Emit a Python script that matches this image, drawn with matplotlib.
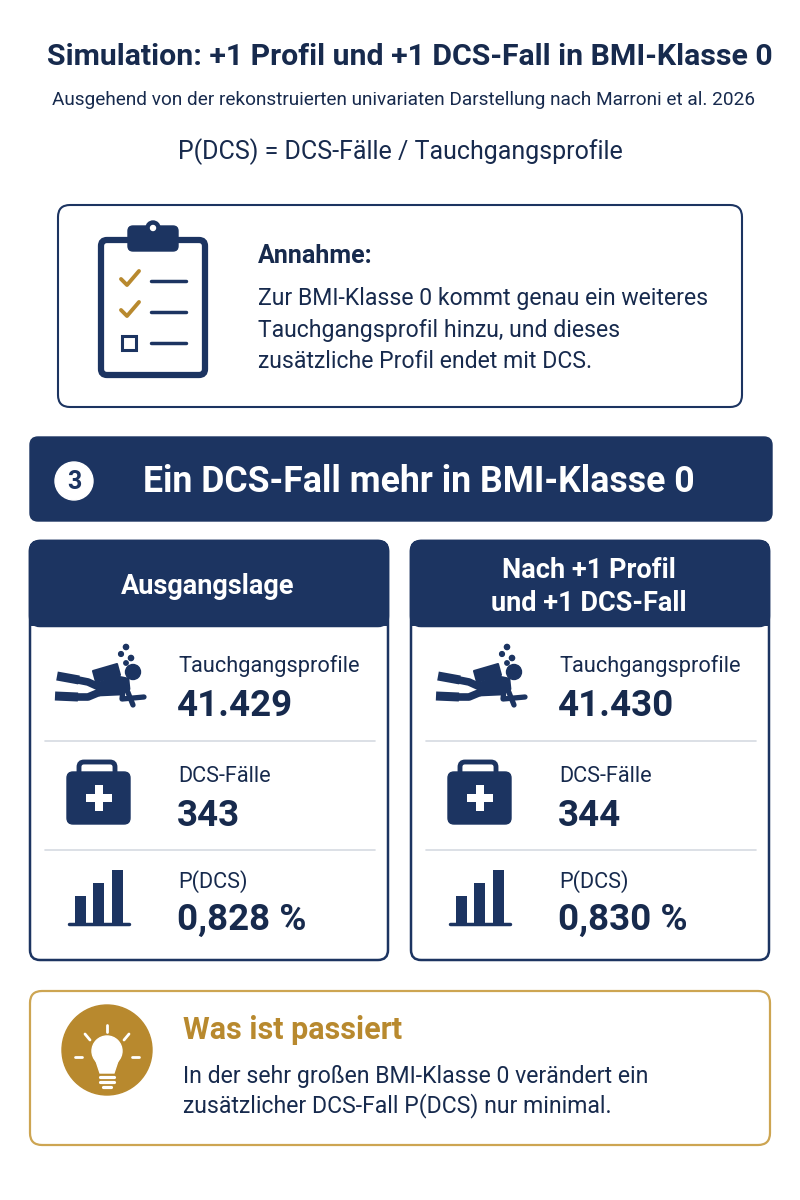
import matplotlib.pyplot as plt
from matplotlib.patches import FancyBboxPatch, Rectangle, Circle, Polygon

plt.rcParams['font.family'] = ['Roboto', 'DejaVu Sans']

# Texte und Werte
titel = "Simulation: +1 Profil und +1 DCS-Fall in BMI-Klasse 0"
untertitel = "Ausgehend von der rekonstruierten univariaten Darstellung nach Marroni et al. 2026"
formel = "P(DCS) = DCS-Fälle / Tauchgangsprofile"
annahme_titel = "Annahme:"
annahme_text = ["Zur BMI-Klasse 0 kommt genau ein weiteres",
                "Tauchgangsprofil hinzu, und dieses",
                "zusätzliche Profil endet mit DCS."]
banner_nr = "3"
banner_text = "Ein DCS-Fall mehr in BMI-Klasse 0"
karten_titel = ["Ausgangslage", "Nach +1 Profil\nund +1 DCS-Fall"]
zeilen_label = ["Tauchgangsprofile", "DCS-Fälle", "P(DCS)"]
werte_vorher = ["41.429", "343", "0,828 %"]
werte_nachher = ["41.430", "344", "0,830 %"]
fazit_titel = "Was ist passiert"
fazit_text = ["In der sehr großen BMI-Klasse 0 verändert ein",
              "zusätzlicher DCS-Fall P(DCS) nur minimal."]

NAVY = '#1c3461'
TXT = '#172a4d'
GOLD = '#b8892e'
GOLD_RAND = '#cda552'
GRAU = '#d6dae1'

fig = plt.figure(figsize=(8, 12), dpi=100)
ax = fig.add_axes([0, 0, 1, 1])
ax.set_xlim(0, 800)
ax.set_ylim(1200, 0)
ax.axis('off')


def box(x, y, w, h, fc='white', ec=NAVY, lw=1.5, r=12, z=1):
    p = FancyBboxPatch((x, y), w, h, boxstyle=f"round,pad=0,rounding_size={r}",
                       fc=fc, ec=ec, lw=lw, zorder=z)
    ax.add_patch(p)


def linie(xs, ys, c=NAVY, lw=3, z=5, cap='round'):
    ax.plot(xs, ys, color=c, lw=lw, solid_capstyle=cap, solid_joinstyle='round', zorder=z)


# Kopf
ax.text(410, 57, titel, ha='center', va='center', fontsize=21.8, fontweight='bold', color=TXT)
ax.text(404, 100, untertitel, ha='center', va='center', fontsize=13.7, color=TXT)
ax.text(400, 152, formel, ha='center', va='center', fontsize=18, color=TXT)

# Annahme-Box
box(58, 205, 684, 202, lw=1.5)
# Klemmbrett
box(101, 240, 104, 135, fc='none', ec=NAVY, lw=4.5, r=6, z=3)
box(128, 226, 50, 25, fc=NAVY, ec=NAVY, lw=1, r=5, z=4)
ax.add_patch(Circle((153, 228), 7, fc=NAVY, ec=NAVY, zorder=4))
ax.add_patch(Circle((153, 228), 2.5, fc='white', ec='white', zorder=5))
for yy in [280, 311]:
    linie([121, 127, 139], [yy - 1, yy + 5, yy - 9], c=GOLD, lw=2.8)
ax.add_patch(Rectangle((122, 336), 14, 14, fc='none', ec=NAVY, lw=2.2, zorder=5))
for yy in [281, 312, 343]:
    linie([151, 186], [yy, yy], lw=2.5)

ax.text(258, 256, annahme_titel, ha='left', va='center', fontsize=18, fontweight='bold', color=TXT)
for i, t in enumerate(annahme_text):
    ax.text(258, 298 + i * 32, t, ha='left', va='center', fontsize=16.6, color=TXT)

# Banner
box(30, 437, 742, 84, fc=NAVY, ec=NAVY, lw=1, r=8)
ax.add_patch(Circle((74, 481), 19, fc='white', ec='white', zorder=3))
ax.text(74, 482, banner_nr, ha='center', va='center', fontsize=18, fontweight='bold', color=NAVY, zorder=4)
ax.text(143, 482, banner_text, ha='left', va='center', fontsize=25.7, fontweight='bold', color='white', zorder=4)


# Icons
def taucher(dx):
    # Flasche
    ax.add_patch(Polygon([[93 + dx, 671], [117 + dx, 664], [120 + dx, 675], [96 + dx, 682]],
                         closed=True, fc=NAVY, ec=NAVY, lw=1.5, joinstyle='round', zorder=5))
    # Rumpf
    ax.add_patch(Polygon([[96 + dx, 684], [118 + dx, 677], [128 + dx, 679], [129 + dx, 689],
                          [121 + dx, 694], [99 + dx, 695]],
                         closed=True, fc=NAVY, ec=NAVY, lw=2, joinstyle='round', zorder=5))
    ax.add_patch(Circle((133 + dx, 672), 7.5, fc=NAVY, ec=NAVY, zorder=5))
    # Beine + Flossen
    linie([99 + dx, 88 + dx, 78 + dx], [687, 682, 680], lw=5.5)
    linie([79 + dx, 57 + dx], [680, 676], lw=6.5, cap='butt')
    linie([100 + dx, 88 + dx, 77 + dx], [692, 697, 697], lw=5.5)
    linie([78 + dx, 55 + dx], [697, 696], lw=6.5, cap='butt')
    # Arme
    linie([123 + dx, 122 + dx, 144 + dx], [690, 699, 697], lw=3.8)
    linie([127 + dx, 133 + dx], [690, 705], lw=3.8)
    for (bx, by, br) in [(126, 647, 2.6), (121, 654, 2.4), (131, 658, 2.6), (126, 663, 2.2)]:
        ax.add_patch(Circle((bx + dx, by), br, fc=NAVY, ec=NAVY, zorder=5))


def koffer(dx):
    box(79 + dx, 762, 36, 22, fc='none', ec=NAVY, lw=3.5, r=5, z=4)
    box(67 + dx, 772, 63, 52, fc=NAVY, ec=NAVY, lw=1, r=6, z=5)
    ax.add_patch(Rectangle((94.5 + dx, 785), 8, 26, fc='white', ec='none', zorder=6))
    ax.add_patch(Rectangle((85.5 + dx, 794), 26, 8, fc='white', ec='none', zorder=6))


def balken(dx):
    for (bx, top) in [(75, 896), (93, 883), (112, 870)]:
        ax.add_patch(Rectangle((bx + dx, top), 11, 923 - top, fc=NAVY, ec='none', zorder=5))
    linie([69 + dx, 129 + dx], [924, 924], lw=2.5)


# Karten
for k, (kx, werte) in enumerate([(30, werte_vorher), (411, werte_nachher)]):
    dx = kx - 30
    box(kx, 541, 358, 419, fc='white', ec=NAVY, lw=1.8, r=10, z=1)
    box(kx, 541, 358, 85, fc=NAVY, ec=NAVY, lw=1.8, r=10, z=2)
    ax.add_patch(Rectangle((kx, 600), 358, 26, fc=NAVY, ec='none', zorder=2))
    ax.text(kx + 178, 587, karten_titel[k], ha='center', va='center', fontsize=19.5,
            fontweight='bold', color='white', linespacing=1.25, zorder=3)
    for yy in [741, 850]:
        linie([kx + 15, kx + 345], [yy, yy], c=GRAU, lw=1.2, z=3)
    taucher(dx)
    koffer(dx)
    balken(dx)
    for i, (lab, yl, yv) in enumerate(zip(zeilen_label, [666, 776, 882], [706, 816, 920])):
        ax.text(178 + dx, yl, lab, ha='left', va='center', fontsize=15.7, color=TXT, zorder=4)
        ax.text(177 + dx, yv, werte[i], ha='left', va='center', fontsize=26.5, fontweight='bold',
                color=TXT, zorder=4)

# Fazit-Box
box(30, 991, 740, 154, fc='white', ec=GOLD_RAND, lw=1.6, r=12)
ax.add_patch(Circle((107, 1050), 45, fc=GOLD, ec=GOLD, zorder=3))
ax.add_patch(Circle((107, 1051), 15, fc='white', ec='white', zorder=4))
ax.add_patch(Polygon([[95, 1058], [119, 1058], [114, 1073], [100, 1073]], closed=True,
                     fc='white', ec='white', zorder=4))
for yy in [1077, 1082]:
    linie([100, 114], [yy, yy], c='white', lw=2.3)
linie([103, 111], [1087, 1087], c='white', lw=2.3)
for (x0, y0, x1, y1) in [(107, 1025, 107, 1032), (85, 1034, 90, 1040), (129, 1034, 124, 1040),
                         (75, 1057, 82, 1057), (132, 1057, 139, 1057)]:
    linie([x0, x1], [y0, y1], c='white', lw=2)
ax.text(183, 1030, fazit_titel, ha='left', va='center', fontsize=22, fontweight='bold', color=GOLD)
for i, t in enumerate(fazit_text):
    ax.text(183, 1077 + i * 29, t, ha='left', va='center', fontsize=16.6, color=TXT)

fig.savefig('out.png', dpi=100)
